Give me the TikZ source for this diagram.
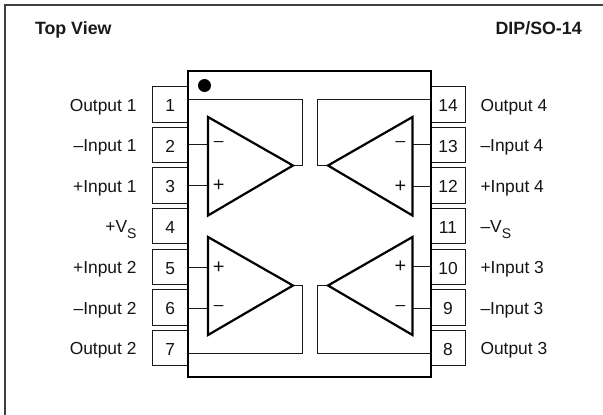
\documentclass[tikz,border=0pt]{standalone}
\usepackage{fontspec}
\setmainfont{Liberation Sans}
\newcommand{\vsub}{V\raisebox{-0.3em}{\fontsize{14}{15}\selectfont S}}
\tikzset{
  x=1pt,y=-1pt,
  framel/.style={draw=black!75,line width=2pt},
  chipbox/.style={draw=black,line width=2.2pt,fill=white,minimum width=242.5pt,minimum height=306pt,inner sep=0pt,outer sep=0pt},
  pinbox/.style={draw=black!90,line width=1.05pt,fill=white,minimum width=35.5pt,minimum height=35.5pt,inner sep=0pt,outer sep=0pt,font=\fontsize{17.4}{19}\selectfont,text=black!92,text height=14.4pt,text depth=0pt},
  amp/.style={draw=black,line width=2.2pt,line join=miter,fill=none},
  wire/.style={draw=black!90,line width=1.05pt,line join=miter},
  sign/.style={font=\fontsize{17.4}{19}\selectfont,text=black!92,inner sep=0pt,outer sep=0pt},
  plus/.style={font=\fontsize{20}{21}\selectfont,text=black!92,inner sep=0pt,outer sep=0pt},
  leftlab/.style={anchor=base east,font=\fontsize{17.4}{19}\selectfont,text=black!92,inner sep=0pt,outer sep=0pt},
  rightlab/.style={anchor=base west,font=\fontsize{17.4}{19}\selectfont,text=black!92,inner sep=0pt,outer sep=0pt},
  headlab/.style={font=\fontsize{17.8}{19}\selectfont\bfseries,text=black!90,inner sep=0pt,outer sep=0pt},
}
\begin{document}
\begin{tikzpicture}
\useasboundingbox (0,0) rectangle (603,415);
\coordinate (fa) at (5,415);
\coordinate (fb) at (5,5);
\coordinate (fc) at (603,5);
\draw[framel] (fa) -- (fb) -- (fc);
\node[headlab,anchor=base west] (title) at (35,34.5) {Top View};
\node[headlab,anchor=base east] (pack) at (581.7,34.5) {DIP/SO-14};
% pins
\foreach \n/\y/\t in {1/104.5/Output 1,2/145/--Input 1,3/185.5/+Input 1,4/226/+\vsub,5/266.8/+Input 2,6/307.5/--Input 2,7/348/Output 2}{
  \node[pinbox] (p\n) at (170.3,\y) {\n};
  \node[leftlab] (l\n) at (136.5,\y+6.9) {\t};
}
\foreach \n/\y/\t in {14/104.5/Output 4,13/145/--Input 4,12/185.5/+Input 4,11/226/--\vsub,10/266.8/+Input 3,9/307.5/--Input 3,8/348/Output 3}{
  \node[pinbox] (p\n) at (448,\y) {\n};
  \node[rightlab] (l\n) at (480.5,\y+6.9) {\t};
}
\node[chipbox] (chip) at (309.5,224) {};
\fill[black] (204.5,85.5) circle (6.5) coordinate (dot);
% amplifier corners
\coordinate (a1t) at (208,117);   \coordinate (a1b) at (208,215.5); \coordinate (a1o) at (293,165.5);
\coordinate (a2t) at (208,237);   \coordinate (a2b) at (208,335);   \coordinate (a2o) at (293,285.5);
\coordinate (a4t) at (412.5,117); \coordinate (a4b) at (412.5,215.5); \coordinate (a4o) at (328,165.5);
\coordinate (a3t) at (412.5,237); \coordinate (a3b) at (412.5,335); \coordinate (a3o) at (328,285.5);
% feedback
\coordinate (c1a) at (188,99.5);  \coordinate (c1b) at (302.5,99.5);  \coordinate (c1c) at (302.5,165.5);
\coordinate (c7a) at (188,353.5); \coordinate (c7b) at (302.5,353.5); \coordinate (c7c) at (302.5,285.5);
\coordinate (c14a) at (430,99.5);  \coordinate (c14b) at (317.5,99.5);  \coordinate (c14c) at (317.5,165.5);
\coordinate (c8a) at (430,353.5); \coordinate (c8b) at (317.5,353.5); \coordinate (c8c) at (317.5,285.5);
\draw[wire] (c1a) -- (c1b) -- (c1c) -- (a1o);
\draw[wire] (c7a) -- (c7b) -- (c7c) -- (a2o);
\draw[wire] (c14a) -- (c14b) -- (c14c) -- (a4o);
\draw[wire] (c8a) -- (c8b) -- (c8c) -- (a3o);
% inputs
\coordinate (i2) at (208,144.5);  \coordinate (i3) at (208,185.5);
\coordinate (i5) at (208,267.5);\coordinate (i6) at (208,308.5);
\coordinate (i13) at (412.5,144.5);\coordinate (i12) at (412.5,186.5);
\coordinate (i10) at (412.5,266.5);\coordinate (i9) at (412.5,308.5);
\draw[wire] (chip.west |- i2) -- (i2);
\draw[wire] (chip.west |- i3) -- (i3);
\draw[wire] (chip.west |- i5) -- (i5);
\draw[wire] (chip.west |- i6) -- (i6);
\draw[wire] (chip.east |- i13) -- (i13);
\draw[wire] (chip.east |- i12) -- (i12);
\draw[wire] (chip.east |- i10) -- (i10);
\draw[wire] (chip.east |- i9) -- (i9);
% amplifiers
\draw[amp] (a1t) -- (a1o) -- (a1b) -- cycle;
\draw[amp] (a2t) -- (a2o) -- (a2b) -- cycle;
\draw[amp] (a4t) -- (a4o) -- (a4b) -- cycle;
\draw[amp] (a3t) -- (a3o) -- (a3b) -- cycle;
% signs
\node[sign] (s1m) at (218.7,144.3) {--};
\node[plus] (s1p) at (218.7,185.6) {+};
\node[plus] (s2p) at (218.7,267.4) {+};
\node[sign] (s2m) at (218.7,307.7) {--};
\node[sign] (s4m) at (400.4,144.3) {--};
\node[plus] (s4p) at (400.4,186.4) {+};
\node[plus] (s3p) at (400.4,266.8) {+};
\node[sign] (s3m) at (400.4,307.7) {--};
\end{tikzpicture}
\end{document}
